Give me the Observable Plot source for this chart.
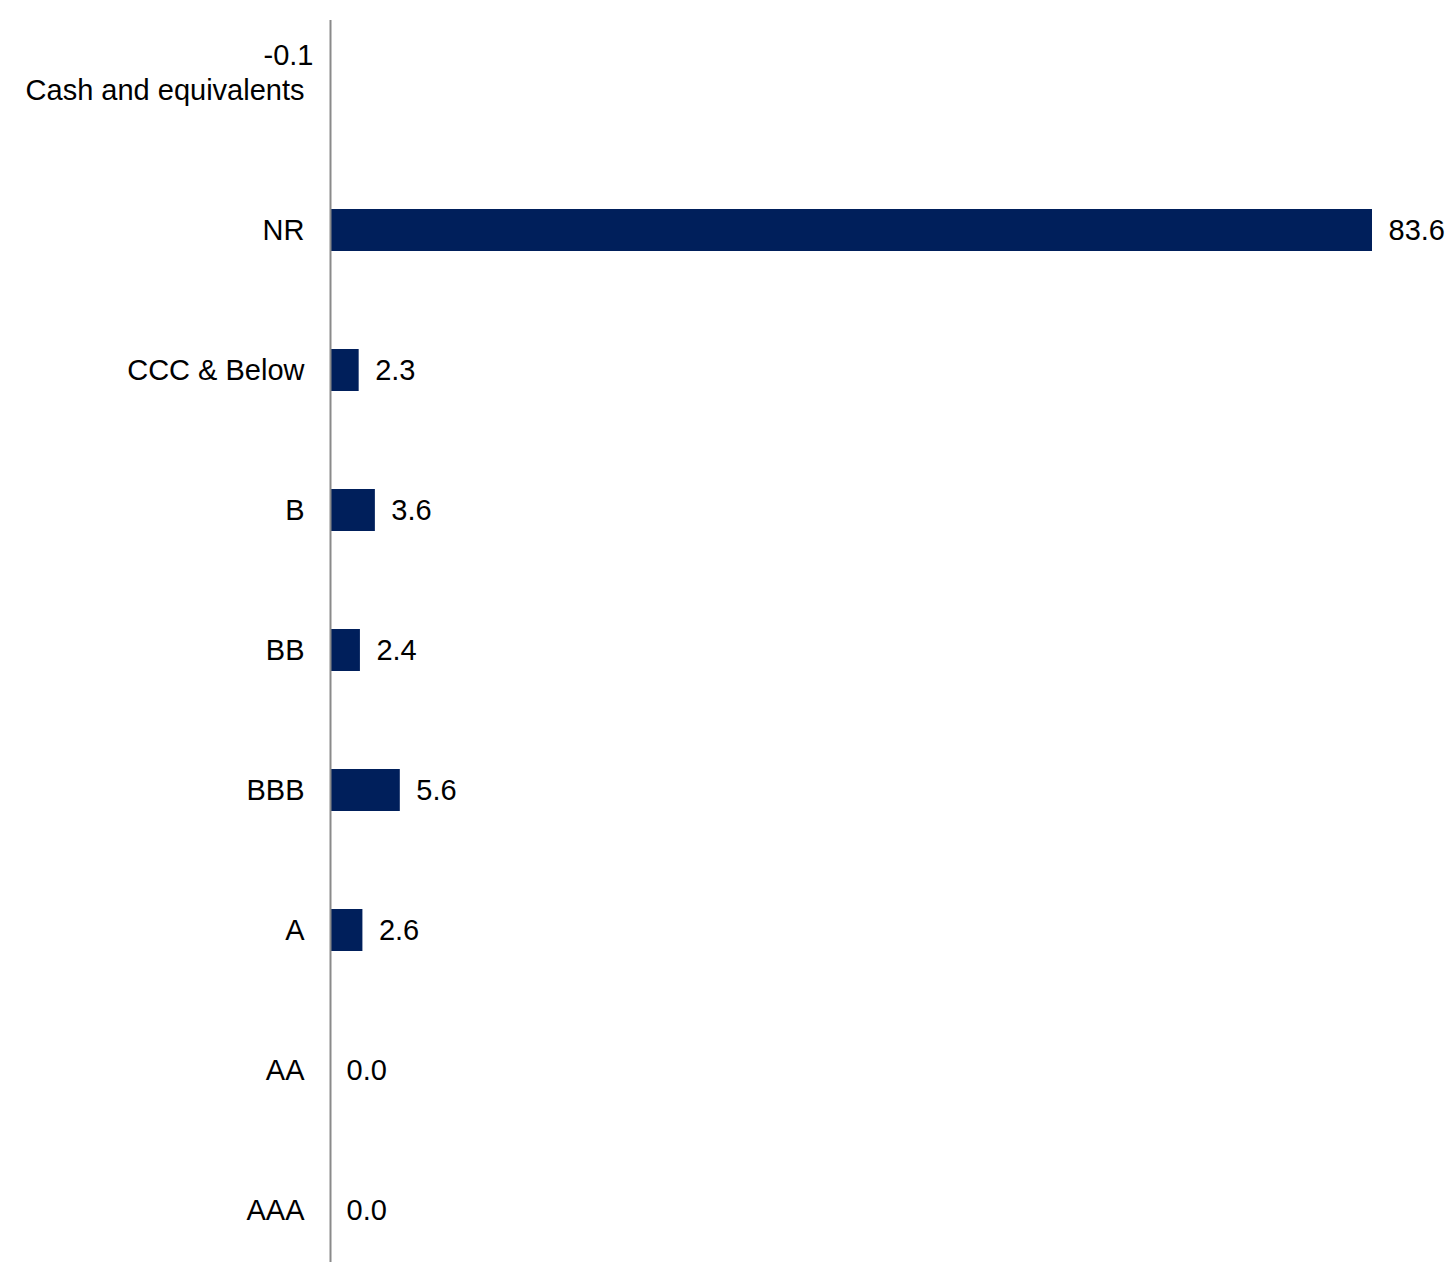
<!DOCTYPE html>
<html>
<head>
<meta charset="utf-8">
<script src="https://cdn.jsdelivr.net/npm/d3@7"></script>
<script src="https://cdn.jsdelivr.net/npm/@observablehq/plot@0.6"></script>
<style>
  html, body { margin: 0; padding: 0; background: #ffffff; }
  #chart svg { display: block; }
</style>
</head>
<body>
<div id="chart"></div>
<script>
const categories = ["Cash and equivalents", "NR", "CCC & Below", "B", "BB", "BBB", "A", "AA", "AAA"];
const values = [-0.1, 83.6, 2.3, 3.6, 2.4, 5.6, 2.6, 0.0, 0.0];

const data = categories.map((c, i) => ({category: c, value: values[i], label: values[i].toFixed(1)}));

const chart = Plot.plot({
  width: 1451,
  height: 1262,
  marginLeft: 330,
  marginRight: 79,
  marginTop: 20,
  marginBottom: 0,
  style: {fontFamily: "'Liberation Sans', Arial, sans-serif", fontSize: "29px", color: "#000", background: "#fff"},
  x: {domain: [0, 83.6], clamp: true, axis: null},
  y: {type: "band", domain: categories, range: [17.8, 1281.4], paddingInner: 0.7, paddingOuter: 0.35, axis: null},
  marks: [
    Plot.barX(data, {x: "value", y: "category", fill: "#001F5B"}),
    Plot.ruleX([0], {stroke: "#8a8a8a", strokeWidth: 2}),
    Plot.axisY({tickSize: 0, tickPadding: 26, fontSize: 29, fill: "#000", label: null}),
    Plot.text(data.filter(d => d.value >= 0), {x: "value", y: "category", text: "label", textAnchor: "start", dx: 16, fontSize: 29, fill: "#000"}),
    Plot.text(data.filter(d => d.value < 0), {x: 0, y: "category", text: "label", textAnchor: "end", dx: -17, dy: -35, fontSize: 29, fill: "#000"})
  ]
});
document.getElementById("chart").appendChild(chart);
</script>
</body>
</html>
